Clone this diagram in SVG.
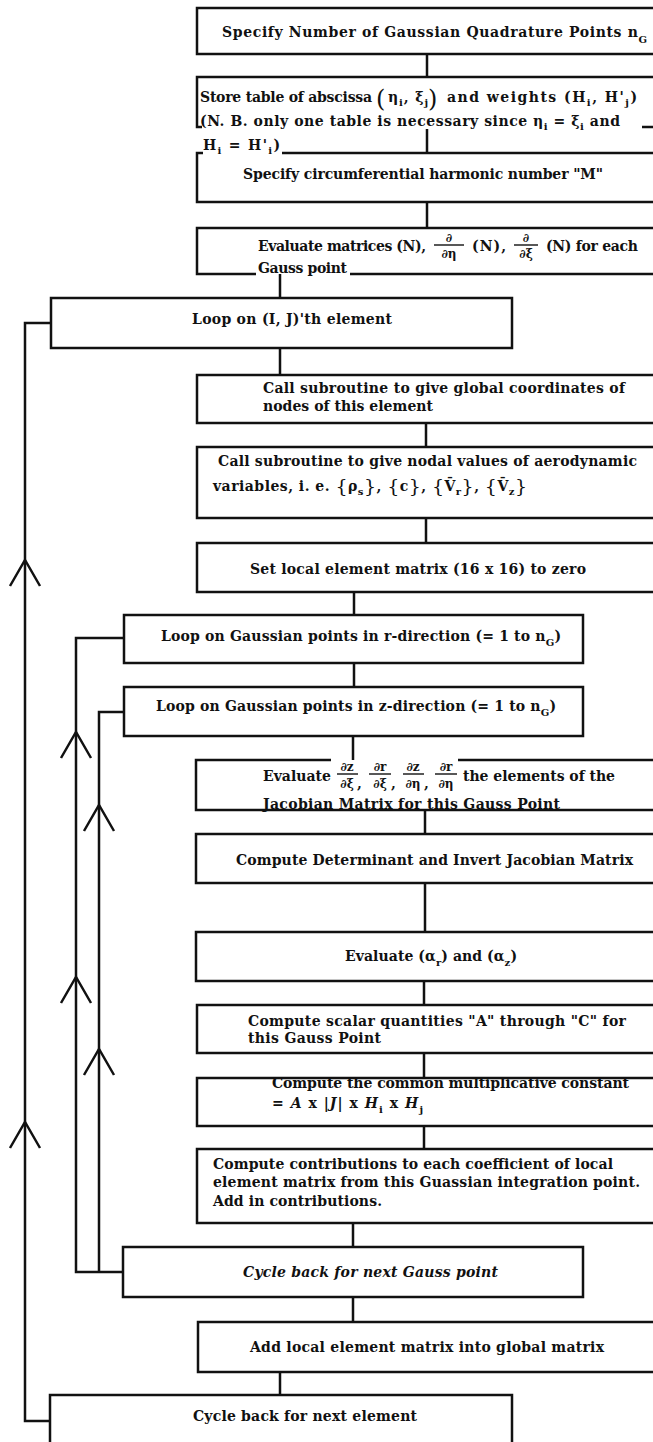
<svg xmlns="http://www.w3.org/2000/svg" xmlns:xlink="http://www.w3.org/1999/xlink" width="653" height="1442" viewBox="0 0 653 1442">
<style>
.bx{fill:none;stroke:#111;stroke-width:2.5}
.cn{fill:none;stroke:#111;stroke-width:2.5}
.fb{fill:none;stroke:#111;stroke-width:1.4}
text{font-family:'DejaVu Serif','Liberation Serif',serif;font-weight:bold;font-size:14px;fill:#111}
.fr{font-size:12px;text-anchor:middle}
.sb{font-size:10px}
.bg{font-weight:normal;font-size:24px}
.br{font-weight:normal;font-size:19px}
</style>
<defs>
<path id="chev" d="M-15,26 L0,0 L15,26" fill="none" stroke="#111" stroke-width="2.5"/>
</defs>
<rect width="653" height="1442" fill="#fff"/>

<g id="connectors">
<path class="cn" d="M427,54V77 M427,129V153 M427,202V228 M280,274V298 M280,348V375 M426,423V447 M426,518V543 M354,592V615 M354,663V687 M353,736V760 M425,810V834 M425,883V932 M424,981V1005 M424,1053V1078 M424,1126V1149 M353,1223V1247 M353,1297V1322 M280,1372V1395"/>
<path class="cn" d="M51,323H25V1421H50 M124,638H76V1272H123 M124,712H99V1272"/>
<use xlink:href="#chev" x="25" y="560"/>
<use xlink:href="#chev" x="25" y="1122"/>
<use xlink:href="#chev" x="76" y="732"/>
<use xlink:href="#chev" x="76" y="977"/>
<use xlink:href="#chev" x="99" y="805"/>
<use xlink:href="#chev" x="99" y="1049"/>
</g>

<g id="n1">
<rect class="bx" x="197" y="8" width="470" height="46"/>
<text x="222" y="37" textLength="425" font-size="14.5">Specify Number of Gaussian Quadrature Points n<tspan dy="6" class="sb" font-size="11">G</tspan></text>
</g>

<g id="n2">
<path class="bx" d="M660,77H197V127H202 M642,127H660"/>
<text x="200" y="102" textLength="172">Store table of abscissa</text>
<text x="376" y="107" class="bg">(</text>
<text x="388" y="102" textLength="40">η<tspan dy="4" class="sb">i</tspan><tspan dy="-4">, ξ</tspan><tspan dy="4" class="sb">j</tspan></text>
<text x="428" y="107" class="bg">)</text>
<text x="447" y="102" textLength="190">and weights (H<tspan dy="4" class="sb">i</tspan><tspan dy="-4">, H'</tspan><tspan dy="4" class="sb">j</tspan><tspan dy="-4">)</tspan></text>
<text x="200" y="126" textLength="420">(N. B.  only one table is necessary since η<tspan dy="4" class="sb">i</tspan><tspan dy="-4"> = ξ</tspan><tspan dy="4" class="sb">i</tspan><tspan dy="-4"> and</tspan></text>
</g>

<g id="n3">
<path class="bx" d="M203,153H197V202H660 M282,153H660"/>
<text x="203" y="150" textLength="77">H<tspan dy="4" class="sb">i</tspan><tspan dy="-4"> = H'</tspan><tspan dy="4" class="sb">i</tspan><tspan dy="-4">)</tspan></text>
<text x="243" y="179" textLength="360">Specify circumferential harmonic number "M"</text>
</g>

<g id="n4">
<path class="bx" d="M660,228H197V274H256 M350,274H660"/>
<text x="258" y="251" textLength="168">Evaluate matrices (N),</text>
<text x="449" y="242" class="fr">∂</text>
<path class="fb" d="M434,245H464"/>
<text x="449" y="258" class="fr">∂η</text>
<text x="472" y="251" textLength="34">(N),</text>
<text x="526" y="242" class="fr">∂</text>
<path class="fb" d="M514,245H538"/>
<text x="526" y="258" class="fr">∂ξ</text>
<text x="546" y="251" textLength="92">(N) for each</text>
<text x="258" y="273" textLength="89">Gauss point</text>
</g>

<g id="n5">
<rect class="bx" x="51" y="298" width="461" height="50"/>
<text x="192" y="324" textLength="200">Loop on (I,  J)'th element</text>
</g>

<g id="n6">
<rect class="bx" x="197" y="375" width="470" height="48"/>
<text x="263" y="393" textLength="362">Call subroutine to give global coordinates of</text>
<text x="263" y="411" textLength="170">nodes of this element</text>
</g>

<g id="n7">
<rect class="bx" x="197" y="447" width="470" height="71"/>
<text x="218" y="466" textLength="419">Call subroutine to give nodal values of aerodynamic</text>
<text x="213" y="491" textLength="314">variables, i. e. <tspan class="br" dy="2">{</tspan><tspan dy="-2">ρ</tspan><tspan dy="4" class="sb">s</tspan><tspan dy="-2" class="br">}</tspan><tspan dy="-2">, </tspan><tspan class="br" dy="2">{</tspan><tspan dy="-2">c</tspan><tspan class="br" dy="2">}</tspan><tspan dy="-2">, </tspan><tspan class="br" dy="2">{</tspan><tspan dy="-2">V̄</tspan><tspan dy="4" class="sb">r</tspan><tspan dy="-2" class="br">}</tspan><tspan dy="-2">, </tspan><tspan class="br" dy="2">{</tspan><tspan dy="-2">V̄</tspan><tspan dy="4" class="sb">z</tspan><tspan dy="-2" class="br">}</tspan></text>
</g>

<g id="n8">
<rect class="bx" x="197" y="543" width="470" height="49"/>
<text x="250" y="574" textLength="336">Set local element matrix (16 x 16) to zero</text>
</g>

<g id="n9">
<rect class="bx" x="124" y="615" width="459" height="48"/>
<text x="161" y="641" textLength="400">Loop on Gaussian points in r-direction (= 1 to n<tspan dy="5" class="sb" font-size="11">G</tspan><tspan dy="-5">)</tspan></text>
</g>

<g id="n10">
<rect class="bx" x="124" y="687" width="459" height="49"/>
<text x="156" y="711" textLength="400">Loop on Gaussian points in z-direction (= 1 to n<tspan dy="5" class="sb" font-size="11">G</tspan><tspan dy="-5">)</tspan></text>
</g>

<g id="n11">
<path class="bx" d="M331,760H196V810H660 M458,760H660"/>
<text x="263" y="781" textLength="68">Evaluate</text>
<text x="347" y="771" class="fr">∂z</text>
<path class="fb" d="M337,774H358"/>
<text x="347" y="788" class="fr">∂ξ</text>
<text x="357" y="788">,</text>
<text x="380" y="771" class="fr">∂r</text>
<path class="fb" d="M369,774H391"/>
<text x="380" y="788" class="fr">∂ξ</text>
<text x="391" y="788">,</text>
<text x="413" y="771" class="fr">∂z</text>
<path class="fb" d="M403,774H424"/>
<text x="413" y="788" class="fr">∂η</text>
<text x="424" y="788">,</text>
<text x="446" y="771" class="fr">∂r</text>
<path class="fb" d="M435,774H457"/>
<text x="446" y="788" class="fr">∂η</text>
<text x="463" y="781" textLength="152">the elements of the</text>
<text x="263" y="809" textLength="297">Jacobian Matrix for this Gauss Point</text>
</g>

<g id="n12">
<rect class="bx" x="196" y="834" width="471" height="49"/>
<text x="236" y="865" textLength="397">Compute Determinant and Invert Jacobian Matrix</text>
</g>

<g id="n13">
<rect class="bx" x="196" y="932" width="471" height="49"/>
<text x="345" y="961" textLength="172">Evaluate (α<tspan dy="5" class="sb">r</tspan><tspan dy="-5">) and (α</tspan><tspan dy="5" class="sb">z</tspan><tspan dy="-5">)</tspan></text>
</g>

<g id="n14">
<rect class="bx" x="197" y="1005" width="470" height="48"/>
<text x="248" y="1026" textLength="378">Compute scalar quantities "A" through "C" for</text>
<text x="248" y="1043" textLength="133">this Gauss Point</text>
</g>

<g id="n15">
<rect class="bx" x="197" y="1078" width="470" height="48"/>
<text x="272" y="1088" textLength="357">Compute the common multiplicative constant</text>
<text x="272" y="1108" textLength="151">= <tspan font-style="italic">A</tspan> x |<tspan font-style="italic">J</tspan>| x <tspan font-style="italic">H</tspan><tspan dy="5" class="sb">i</tspan><tspan dy="-5"> x </tspan><tspan font-style="italic">H</tspan><tspan dy="5" class="sb">j</tspan></text>
</g>

<g id="n16">
<rect class="bx" x="197" y="1149" width="470" height="74"/>
<text x="213" y="1169" textLength="400">Compute contributions to each coefficient of local</text>
<text x="213" y="1187" textLength="427">element matrix from this Guassian integration point.</text>
<text x="213" y="1206" textLength="169">Add in contributions.</text>
</g>

<g id="n17">
<rect class="bx" x="123" y="1247" width="460" height="50"/>
<text x="243" y="1277" textLength="255" font-style="italic">Cycle back for next Gauss point</text>
</g>

<g id="n18">
<rect class="bx" x="198" y="1322" width="469" height="50"/>
<text x="250" y="1352" textLength="354">Add local element matrix into global matrix</text>
</g>

<g id="n19">
<path class="bx" d="M50,1444V1395H512V1444"/>
<text x="193" y="1421" textLength="224">Cycle back for next element</text>
</g>
</svg>
